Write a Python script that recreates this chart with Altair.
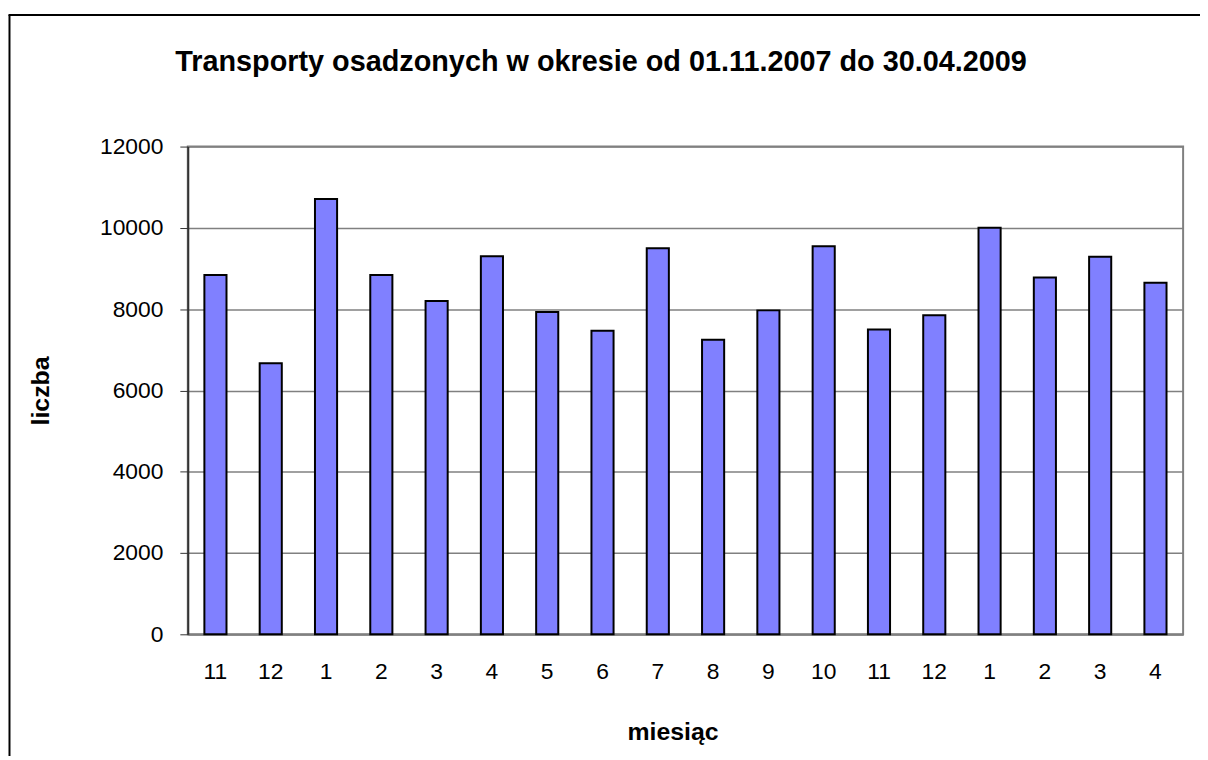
import altair as alt
import pandas as pd

okres = ["11.2007", "12.2007", "1.2008", "2.2008", "3.2008", "4.2008", "5.2008",
         "6.2008", "7.2008", "8.2008", "9.2008", "10.2008", "11.2008", "12.2008",
         "1.2009", "2.2009", "3.2009", "4.2009"]
liczba = [8840, 6670, 10710, 8840, 8200, 9300, 7930, 7470, 9500, 7250, 7970,
          9550, 7500, 7850, 10000, 8780, 9290, 8650]
y_ticks = [0, 2000, 4000, 6000, 8000, 10000, 12000]

df = pd.DataFrame({"okres": okres, "liczba": liczba})

FONT = "Liberation Sans"
W, H = 1002, 491

bars = alt.Chart(df).mark_bar(
    color="#8080FF", stroke="#000000", strokeWidth=2
).encode(
    x=alt.X("okres:N", sort=okres,
            scale=alt.Scale(paddingInner=0.6, paddingOuter=0.3),
            axis=alt.Axis(title="miesiąc", labelExpr="split(datum.value, '.')[0]",
                          labelAngle=0, ticks=False, labelPadding=26,
                          domainColor="#808080", domainWidth=2,
                          titleX=488, titleY=106, titleAnchor="start", titleAlign="center",
                          titleBaseline="alphabetic")),
    y=alt.Y("liczba:Q", scale=alt.Scale(domain=[0, 12000], nice=False),
            axis=alt.Axis(title="liczba", values=y_ticks, format="d",
                          tickSize=8, tickColor="#333333",
                          labelPadding=17, domainColor="#333333", domainWidth=2,
                          gridColor="#808080", gridWidth=1.5,
                          titleX=-140, titleY=H / 2, titleAngle=-90,
                          titleAlign="center", titleBaseline="alphabetic")),
)

frame_data = alt.Data(values=[{}])
left_border = alt.Chart(frame_data).mark_rule(color="#000000", strokeWidth=2).encode(
    x=alt.value(-179.5), y=alt.value(-132.5), y2=alt.value(620))
top_border = alt.Chart(frame_data).mark_rule(color="#000000", strokeWidth=2).encode(
    y=alt.value(-132.5), x=alt.value(-180.5), x2=alt.value(1025))

chart = alt.layer(bars, left_border, top_border).properties(
    width=W, height=H,
    title=alt.TitleParams(
        text="Transporty osadzonych w okresie od 01.11.2007 do 30.04.2009",
        font=FONT, fontSize=29, fontWeight="bold", color="#000000",
        anchor="middle", baseline="alphabetic", dx=-85, dy=86.5, offset=0),
    padding={"left": 181, "top": 137, "right": 17, "bottom": 120},
    autosize=alt.AutoSizeParams(type="none"),
).configure(
    background="#ffffff",
).configure_view(
    stroke="#808080", strokeWidth=2
).configure_axis(
    labelFont=FONT, labelFontSize=23, labelColor="#000000",
    titleFont=FONT, titleFontSize=25, titleFontWeight="bold", titleColor="#000000",
)

chart.save("out.html", embed_options={"renderer": "svg", "actions": False})
